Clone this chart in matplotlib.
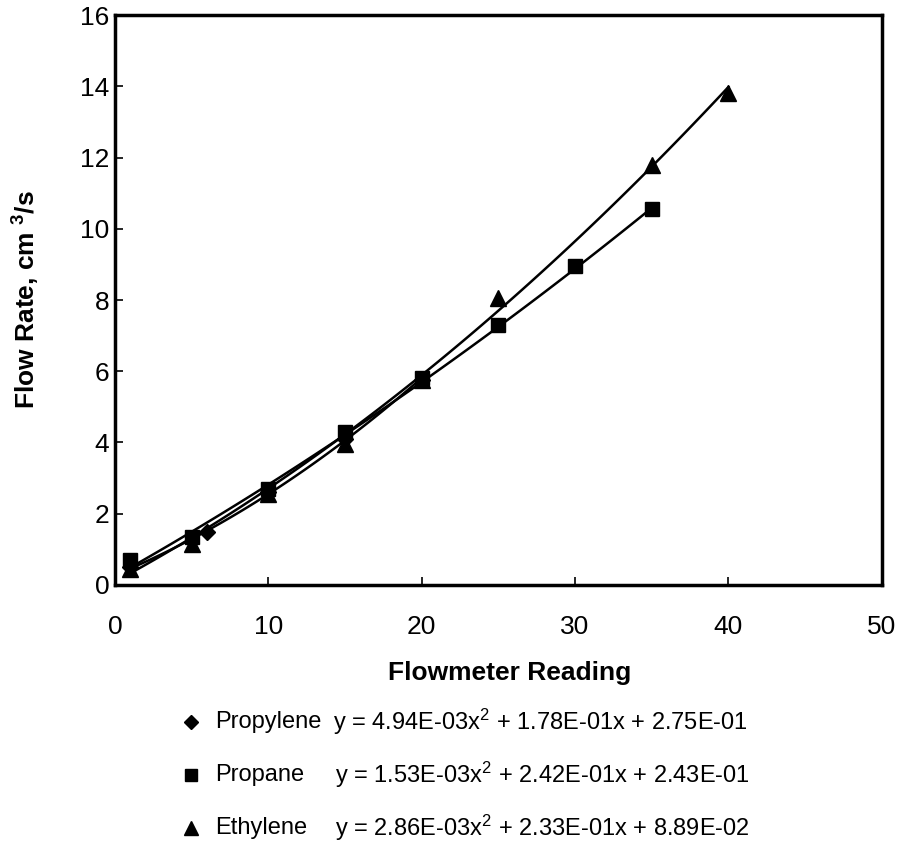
import numpy as np
import matplotlib.pyplot as plt
from matplotlib.lines import Line2D

plt.rcParams['font.family'] = ['Liberation Sans', 'DejaVu Sans']
plt.rcParams['mathtext.fontset'] = 'custom'
plt.rcParams['mathtext.rm'] = 'Liberation Sans'
plt.rcParams['mathtext.it'] = 'Liberation Sans'
plt.rcParams['mathtext.bf'] = 'Liberation Sans:bold'

# Данные: показания расходомера и расход (см3/с)
propylene_x = [1, 6, 10, 15, 20]
propylene_y = [0.5, 1.48, 2.6, 4.1, 5.75]
propane_x = [1, 5, 10, 15, 20, 25, 30, 35]
propane_y = [0.7, 1.35, 2.7, 4.3, 5.82, 7.3, 8.95, 10.55]
ethylene_x = [1, 5, 10, 15, 20, 25, 35, 40]
ethylene_y = [0.45, 1.15, 2.55, 3.95, 5.75, 8.05, 11.78, 13.82]

# коэффициенты полиномиальных трендов (a, b, c)
propylene_fit = [4.94e-03, 1.78e-01, 2.75e-01]
propane_fit = [1.53e-03, 2.42e-01, 2.43e-01]
ethylene_fit = [2.86e-03, 2.33e-01, 8.89e-02]

series = [
    ("Propylene", propylene_x, propylene_y, propylene_fit, "D", 8.5),
    ("Propane", propane_x, propane_y, propane_fit, "s", 10),
    ("Ethylene", ethylene_x, ethylene_y, ethylene_fit, "^", 11),
]

fig = plt.figure(figsize=(8.98, 8.44), dpi=100)
ax = fig.add_axes([0.128, 0.307, 0.854, 0.675])

for name, x, y, fit, marker, ms in series:
    ax.plot(x, y, linestyle="none", marker=marker, color="black", markersize=ms)
    x_line = np.linspace(min(x), max(x), 100)
    ax.plot(x_line, np.polyval(fit, x_line), color="black", linewidth=1.8)

ax.set_xlim(0, 50)
ax.set_ylim(0, 16)
ax.set_xticks(range(0, 51, 10))
ax.set_yticks(range(0, 17, 2))
ax.tick_params(direction="in", length=6, width=1.2, labelsize=19)
ax.tick_params(axis="x", pad=22)
ax.tick_params(axis="y", pad=4)
for sp in ax.spines.values():
    sp.set_linewidth(2.5)

ax.set_xlabel("Flowmeter Reading", fontsize=19, fontweight="bold")
ax.set_ylabel("Flow Rate, cm $^{\\mathbf{3}}$/s", fontsize=19, fontweight="bold")
ax.xaxis.set_label_coords(0.515, -0.133)
ax.yaxis.set_label_coords(-0.095, 0.5)

# легенда с уравнениями под графиком
def fmt(v):
    m, e = f"{v:.2E}".split("E")
    return f"{m}E{int(e):+03d}".replace("+", "")

rows_y = [0.145, 0.082, 0.019]
eq_x = [0.371, 0.373, 0.373]
for (name, x, y, fit, marker, ms), ry, ex in zip(series, rows_y, eq_x):
    fig.add_artist(Line2D([0.213], [ry], marker=marker, color="black",
                          markersize=ms - 1, linestyle="none",
                          transform=fig.transFigure))
    fig.text(0.240, ry, name, fontsize=17, va="center")
    a, b, c = fit
    eq = f"y = {fmt(a)}x$^{{2}}$ + {fmt(b)}x + {fmt(c)}"
    fig.text(ex, ry, eq, fontsize=17, va="center")

fig.savefig("out.png", dpi=100)
